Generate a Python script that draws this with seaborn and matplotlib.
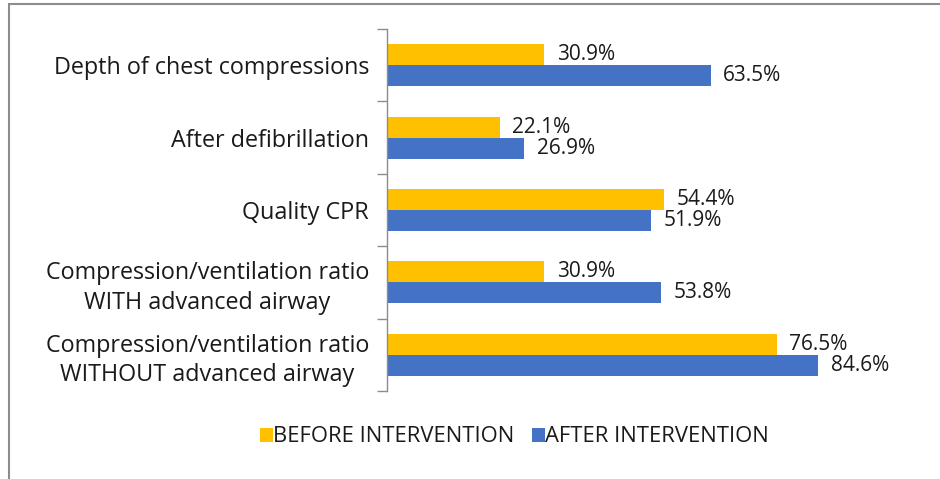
import numpy as np
import pandas as pd
import matplotlib
matplotlib.use("Agg")
import matplotlib.pyplot as plt
from matplotlib.patches import Patch, Rectangle
from matplotlib.ticker import FixedLocator
import seaborn as sns

categories = ["Depth of chest compressions",
              "After defibrillation",
              "Quality CPR",
              "Compression/ventilation ratio\nWITH advanced airway",
              "Compression/ventilation ratio\nWITHOUT advanced airway"]
before = [30.9, 22.1, 54.4, 30.9, 76.5]
after = [63.5, 26.9, 51.9, 53.8, 84.6]
groups = ["BEFORE INTERVENTION", "AFTER INTERVENTION"]
colors = ["#FFC000", "#4472C4"]

df = pd.DataFrame({
    "category": categories * 2,
    "value": before + after,
    "group": [groups[0]] * len(categories) + [groups[1]] * len(categories),
})

sns.set_theme(style="white")
plt.rcParams["font.family"] = ["Open Sans", "DejaVu Sans"]
txt = "#1a1a1a"

fig = plt.figure(figsize=(9.4, 4.79), dpi=100)
ax = fig.add_axes([387 / 940, 1 - 391 / 479, (90 * 5.095) / 940, (391 - 29) / 479])

sns.barplot(data=df, y="category", x="value", hue="group", orient="h",
            palette=colors, width=0.58, ax=ax, legend=False, saturation=1,
            linewidth=0)

for c in ax.containers:
    ax.bar_label(c, labels=[f"{v:.1f}%" for v in c.datavalues], padding=9,
                 fontsize=15, color=txt)

ax.set_xlim(0, 90)
ax.set_ylim(len(categories) - 0.5, -0.5)
ax.set_xlabel("")
ax.set_ylabel("")
ax.set_xticks([])
for s in ["top", "right", "bottom"]:
    ax.spines[s].set_visible(False)
ax.spines["left"].set_color("#8c8c8c")
ax.spines["left"].set_linewidth(1)

ax.set_yticks(range(len(categories)))
ax.set_yticklabels(categories, fontsize=16.8, color=txt, ha="right",
                   multialignment="center", linespacing=1.3)
ax.tick_params(axis="y", which="major", length=0, pad=13)
ax.yaxis.set_minor_locator(FixedLocator(np.arange(-0.5, len(categories), 1)))
ax.tick_params(axis="y", which="minor", length=7, color="#8c8c8c", width=1, left=True)

handles = [Patch(facecolor=c, edgecolor="none") for c in colors]
fig.legend(handles, groups, loc="center", bbox_to_anchor=(514 / 940, 1 - 437 / 479),
           ncol=2, frameon=False, fontsize=15.8, handlelength=0.6, handleheight=0.6,
           handletextpad=0.0, columnspacing=0.8, labelcolor=txt)

# outer chart border (left and top edges visible in the reference)
fig.add_artist(Rectangle((9 / 940, -0.1), 1.2, 1 - 4 / 479 + 0.1,
                         transform=fig.transFigure, fill=False,
                         edgecolor="#8c8c8c", linewidth=1.5))

fig.savefig("out.png", dpi=100)
